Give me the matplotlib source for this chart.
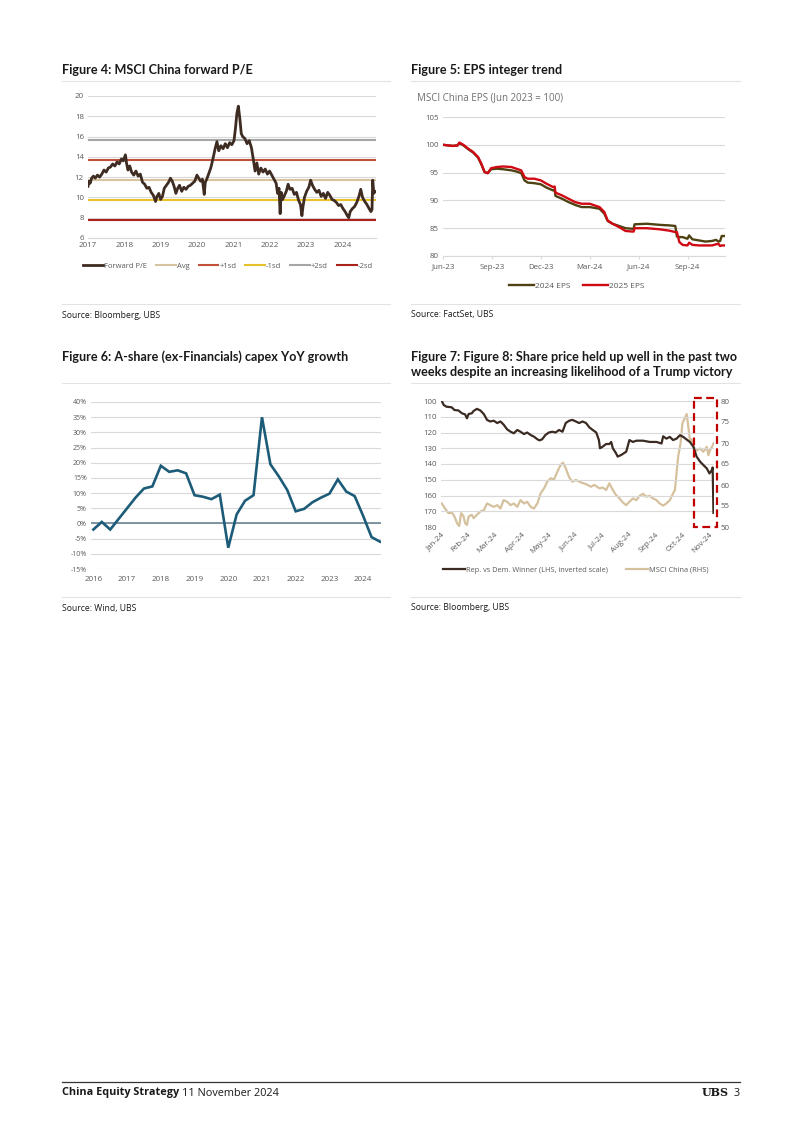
import matplotlib
matplotlib.use('Agg')
import matplotlib.pyplot as plt
from matplotlib.patches import Rectangle

plt.rcParams['font.family'] = ['Open Sans', 'DejaVu Sans']

W, H = 802, 1134

# ---------------- data ----------------
# Figure 4: MSCI China forward P/E
pe_year = [2017.00, 2017.03, 2017.06, 2017.10, 2017.15, 2017.20, 2017.26, 2017.32, 2017.38, 2017.44,
           2017.50, 2017.56, 2017.62, 2017.68, 2017.74, 2017.80, 2017.86, 2017.92, 2017.97, 2018.03,
           2018.06, 2018.10, 2018.15, 2018.20, 2018.26, 2018.32, 2018.38, 2018.44, 2018.50, 2018.56,
           2018.62, 2018.68, 2018.74, 2018.80, 2018.86, 2018.90, 2018.95, 2019.00, 2019.05, 2019.10,
           2019.16, 2019.22, 2019.27, 2019.32, 2019.37, 2019.42, 2019.47, 2019.52, 2019.58, 2019.64,
           2019.70, 2019.76, 2019.82, 2019.88, 2019.94, 2020.00, 2020.05, 2020.10, 2020.15, 2020.20,
           2020.23, 2020.27, 2020.32, 2020.38, 2020.44, 2020.50, 2020.55, 2020.60, 2020.66, 2020.72,
           2020.78, 2020.84, 2020.90, 2020.96, 2021.02, 2021.06, 2021.10, 2021.14, 2021.18, 2021.22,
           2021.26, 2021.32, 2021.38, 2021.44, 2021.50, 2021.55, 2021.60, 2021.65, 2021.70, 2021.76,
           2021.82, 2021.88, 2021.94, 2022.00, 2022.06, 2022.12, 2022.18, 2022.22, 2022.26, 2022.29,
           2022.32, 2022.36, 2022.41, 2022.46, 2022.51, 2022.56, 2022.62, 2022.68, 2022.74, 2022.80,
           2022.85, 2022.89, 2022.92, 2022.96, 2023.02, 2023.08, 2023.13, 2023.18, 2023.24, 2023.30,
           2023.36, 2023.42, 2023.48, 2023.54, 2023.60, 2023.66, 2023.72, 2023.78, 2023.84, 2023.90,
           2023.96, 2024.02, 2024.08, 2024.14, 2024.18, 2024.22, 2024.28, 2024.34, 2024.40, 2024.46,
           2024.51, 2024.56, 2024.62, 2024.68, 2024.74, 2024.79, 2024.82, 2024.84, 2024.87, 2024.90]
pe_value = [11.1, 11.6, 11.4, 11.9, 12.1, 11.9, 12.2, 12.0, 12.3, 12.7,
            12.5, 12.9, 13.0, 13.3, 13.1, 13.5, 13.3, 13.8, 13.6, 14.2,
            13.4, 12.7, 13.1, 12.5, 12.2, 12.6, 12.1, 12.3, 11.5, 11.3,
            10.9, 11.0, 10.5, 10.2, 9.6, 10.1, 10.4, 9.8, 10.1, 10.9,
            11.2, 11.5, 11.9, 11.6, 11.1, 10.4, 10.9, 11.2, 10.6, 11.0,
            10.8, 11.1, 11.2, 11.4, 11.6, 12.2, 11.9, 11.6, 11.8, 10.3,
            11.5, 11.8, 12.3, 12.9, 13.8, 14.8, 15.5, 14.6, 15.1, 14.8,
            15.3, 14.9, 15.4, 15.2, 15.6, 16.8, 18.3, 19.0, 17.8, 16.3,
            16.0, 15.8, 15.3, 15.6, 14.9, 13.8, 12.6, 13.4, 12.3, 12.9,
            12.5, 12.8, 12.3, 12.6, 12.2, 11.8, 11.4, 10.4, 10.9, 8.4,
            10.5, 9.8, 10.2, 10.6, 11.3, 10.8, 10.9, 10.3, 10.5, 9.7,
            9.3, 8.2, 9.1, 10.0, 10.6, 11.0, 11.7, 11.2, 10.8, 10.5,
            10.7, 10.1, 10.4, 9.9, 10.5, 10.2, 9.8, 9.7, 9.5, 9.2,
            9.3, 8.9, 8.6, 8.2, 8.0, 8.6, 8.9, 9.1, 9.5, 10.1,
            10.8, 10.0, 9.6, 9.3, 8.9, 8.6, 8.8, 11.7, 10.4, 10.6]
pe_avg = 11.74
pe_sd = 1.97
pe_bands = ['Avg', '+1sd', '-1sd', '+2sd', '-2sd']
pe_band_mult = [0, 1, -1, 2, -2]
pe_band_colors = ['#D8C3A0', '#C0503A', '#E8C02A', '#A6A6A6', '#A8221A']

# Figure 5: MSCI China EPS (Jun 2023 = 100), x in months since Jun-23
eps_month = [0, 0.3, 0.6, 0.9, 1.0, 1.25, 1.55, 1.85, 2.15, 2.35,
             2.55, 2.75, 2.95, 3.3, 3.7, 4.2, 4.5, 4.8, 5.0, 5.2,
             5.6, 6.0, 6.35, 6.75, 6.85, 6.9, 7.3, 7.7, 8.1, 8.5,
             9.0, 9.6, 9.9, 10.1, 10.4, 10.8, 11.2, 11.6, 11.7, 11.75,
             12.5, 13.3, 13.9, 14.25, 14.35, 14.5, 14.7, 15.0, 15.1, 15.3,
             15.7, 16.1, 16.5, 16.75, 16.9, 17.0, 17.1, 17.25]
eps_2024 = [100.0, 99.9, 99.8, 99.9, 100.3, 99.9, 99.2, 98.6, 97.7, 96.5,
            95.1, 94.9, 95.6, 95.7, 95.6, 95.4, 95.2, 94.9, 93.6, 93.2,
            93.1, 92.9, 92.3, 91.8, 91.9, 90.8, 90.3, 89.7, 89.2, 88.8,
            88.8, 88.5, 87.6, 86.3, 85.8, 85.4, 85.0, 84.9, 84.9, 85.7,
            85.8, 85.6, 85.5, 85.4, 83.5, 83.4, 83.4, 83.1, 83.7, 83.0,
            82.8, 82.6, 82.7, 82.9, 82.6, 82.7, 83.6, 83.6]
eps_2025 = [100.0, 99.9, 99.8, 99.9, 100.4, 100.0, 99.3, 98.7, 97.8, 96.6,
            95.1, 94.9, 95.8, 96.0, 96.1, 96.0, 95.7, 95.4, 94.2, 93.9,
            93.9, 93.6, 93.0, 92.4, 92.5, 91.4, 90.9, 90.3, 89.7, 89.4,
            89.4, 88.8, 87.9, 86.4, 85.8, 85.2, 84.5, 84.4, 84.4, 85.0,
            85.0, 84.8, 84.55, 84.3, 84.3, 82.5, 82.0, 81.9, 82.4, 82.0,
            81.9, 81.9, 81.9, 82.1, 82.2, 81.8, 81.9, 81.9]
eps_ticks = [0, 3, 6, 9, 12, 15]
eps_labels = ['Jun-23', 'Sep-23', 'Dec-23', 'Mar-24', 'Jun-24', 'Sep-24']

# Figure 6: A-share (ex-Financials) capex YoY growth, quarterly
capex_year = [2016.0 + 0.25 * i for i in range(35)]
capex_growth = [-2.0, 0.5, -2.0, 1.5, 5.0, 8.5, 11.5, 12.2, 19.0, 17.0,
                17.5, 16.5, 9.3, 8.8, 8.0, 9.5, -8.0, 3.0, 7.5, 9.3,
                35.0, 19.5, 15.5, 11.0, 4.0, 4.8, 7.0, 8.5, 9.8, 14.5,
                10.5, 9.0, 2.5, -4.5, -6.0]

# Figure 7: Rep. vs Dem. Winner vs MSCI China, x in months since Jan-24
rep_month = [0.03, 0.1, 0.2, 0.4, 0.5, 0.65, 0.78, 0.9, 0.97, 1.03,
             1.15, 1.22, 1.34, 1.47, 1.6, 1.72, 1.84, 1.97, 2.1, 2.22,
             2.34, 2.47, 2.6, 2.72, 2.85, 2.97, 3.1, 3.22, 3.35, 3.47,
             3.6, 3.68, 3.78, 3.9, 4.03, 4.16, 4.28, 4.41, 4.54, 4.66,
             4.79, 4.91, 5.04, 5.16, 5.29, 5.42, 5.54, 5.67, 5.8, 5.9,
             5.94, 6.04, 6.17, 6.29, 6.36, 6.42, 6.54, 6.6, 6.73, 6.92,
             7.04, 7.17, 7.3, 7.55, 7.8, 8.05, 8.24, 8.3, 8.42, 8.55,
             8.67, 8.8, 8.93, 9.05, 9.18, 9.3, 9.43, 9.55, 9.68, 9.8,
             9.93, 10.03, 10.12, 10.15, 10.18]
rep_value = [100, 102.5, 103.6, 104, 105.7, 106, 107.8, 108.5, 111, 108.3,
             107.8, 106.3, 105, 106, 108.3, 112, 113, 112.5, 114, 113,
             115, 118, 119.5, 120.5, 118.4, 119.5, 121, 120, 121.6, 122.6,
             124.3, 125, 124.3, 121.6, 120, 119.5, 120, 118.4, 119.5, 114,
             112.5, 112, 113, 114, 113, 114, 116.7, 118.4, 120, 124.8,
             130, 129, 127.3, 127.3, 126, 130, 133.2, 135.3, 134.3, 132.2,
             124.8, 126, 125.2, 125.2, 126, 126, 127, 122.4, 123.9, 122.8,
             124.8, 123.9, 121.7, 122.8, 124.5, 126, 129, 135.3, 138.5, 140.6,
             142.8, 146, 143.9, 142.2, 171]
msci_month = [0.03, 0.15, 0.28, 0.4, 0.47, 0.53, 0.6, 0.68, 0.75, 0.84,
              0.9, 0.97, 1.03, 1.15, 1.22, 1.34, 1.47, 1.6, 1.72, 1.84,
              1.97, 2.1, 2.22, 2.34, 2.47, 2.6, 2.72, 2.85, 2.97, 3.1,
              3.22, 3.35, 3.47, 3.6, 3.72, 3.85, 3.97, 4.1, 4.22, 4.35,
              4.47, 4.56, 4.66, 4.79, 4.91, 5.04, 5.23, 5.42, 5.6, 5.73,
              5.92, 6.04, 6.17, 6.29, 6.42, 6.54, 6.67, 6.8, 6.92, 7.04,
              7.17, 7.3, 7.42, 7.55, 7.67, 7.8, 7.92, 8.05, 8.17, 8.3,
              8.42, 8.55, 8.67, 8.74, 8.8, 8.86, 8.95, 9.02, 9.11, 9.18,
              9.24, 9.3, 9.36, 9.43, 9.55, 9.68, 9.8, 9.93, 9.99, 10.05,
              10.12, 10.18]
msci_value = [55.6, 54.4, 53.3, 53.4, 52.9, 52.1, 50.9, 50.2, 53.3, 52.6,
              50.9, 50.5, 52.5, 52.9, 52.1, 52.9, 53.7, 54.0, 55.6, 55.2,
              54.8, 55.2, 54.4, 56.4, 56.0, 55.2, 55.6, 54.8, 56.4, 55.6,
              56.0, 54.8, 54.4, 55.6, 58.0, 59.2, 60.8, 61.6, 61.3, 63.2,
              64.8, 65.3, 64.0, 61.8, 60.8, 61.2, 60.6, 60.2, 59.6, 60.0,
              59.2, 59.4, 58.8, 60.4, 58.8, 57.6, 56.8, 55.8, 55.2, 56.0,
              56.8, 56.4, 57.4, 57.9, 57.2, 57.4, 56.8, 56.4, 55.6, 55.1,
              55.6, 56.4, 58.0, 58.8, 62.8, 66.7, 69.9, 74.7, 75.9, 76.9,
              73.9, 70.7, 70.9, 69.1, 68.2, 68.7, 67.9, 69.1, 67.1, 68.3,
              69.0, 69.9]
month_labels = ['Jan-24', 'Feb-24', 'Mar-24', 'Apr-24', 'May-24', 'Jun-24',
                'Jul-24', 'Aug-24', 'Sep-24', 'Oct-24', 'Nov-24']
highlight = (9.45, 10.31)

# ---------------- layout helpers ----------------
GRID = '#D9D9D9'
TICK = '#595959'
TXT = '#1A1A1A'


def fx(x):
    return x / W


def fy(y):
    return 1 - y / H


def add_ax(x0, y0, x1, y1):
    # pixel box (top-left, bottom-right) -> axes
    return fig.add_axes([fx(x0), fy(y1), (x1 - x0) / W, (y1 - y0) / H])


def style(ax):
    for s in ax.spines.values():
        s.set_visible(False)
    ax.tick_params(labelsize=5.7, colors=TICK, length=0, pad=3)
    ax.grid(axis='y', color=GRID, lw=0.8)
    ax.set_axisbelow(True)


def frame(x0, x1, ytitle, title_lines, yrule, ybottom, source):
    for i, t in enumerate(title_lines):
        fig.text(fx(x0), fy(ytitle + i * 15.5), t, fontsize=9.1, fontweight='bold',
                 family=['Lato', 'DejaVu Sans'], color=TXT, va='center', ha='left')
    fig.add_artist(plt.Line2D([fx(x0), fx(x1)], [fy(yrule), fy(yrule)], color='#E3E3E3', lw=0.8))
    fig.add_artist(plt.Line2D([fx(x0), fx(x1)], [fy(ybottom), fy(ybottom)], color='#E3E3E3', lw=0.8))
    fig.text(fx(x0), fy(ybottom + 11), source, fontsize=6.2, color=TXT, va='center', ha='left')


fig = plt.figure(figsize=(W / 100, H / 100), dpi=100)

frame(62, 390, 70, ['Figure 4: MSCI China forward P/E'], 81, 304, 'Source: Bloomberg, UBS')
frame(411, 740, 70, ['Figure 5: EPS integer trend'], 81, 304, 'Source: FactSet, UBS')
frame(62, 390, 357, ['Figure 6: A-share (ex-Financials) capex YoY growth'], 383, 597, 'Source: Wind, UBS')
frame(411, 740, 357, ['Figure 7: Figure 8: Share price held up well in the past two',
                      'weeks despite an increasing likelihood of a Trump victory'], 383, 597,
      'Source: Bloomberg, UBS')

# ---------------- Figure 4 ----------------
ax4 = add_ax(88, 96, 376, 238)
style(ax4)
ax4.spines['bottom'].set_visible(True)
ax4.spines['bottom'].set_color(GRID)
ax4.plot(pe_year, pe_value, color='#3E2C23', lw=2.0, label='Forward P/E', zorder=3)
for name, m, c in zip(pe_bands, pe_band_mult, pe_band_colors):
    ax4.axhline(pe_avg + m * pe_sd, color=c, lw=1.5, label=name, zorder=2)
ax4.set_ylim(6, 20)
ax4.set_yticks(range(6, 21, 2))
ax4.set_xlim(2017.0, 2024.93)
ax4.set_xticks(range(2017, 2025))
ax4.legend(loc='center', bbox_to_anchor=(fx(228), fy(266)), bbox_transform=fig.transFigure,
           ncol=6, frameon=False, fontsize=5.5, handlelength=2.6, handletextpad=0.1,
           columnspacing=1.2, labelcolor=TICK)

# ---------------- Figure 5 ----------------
fig.text(fx(417), fy(98), 'MSCI China EPS (Jun 2023 = 100)', fontsize=7, color='#6E6E6E',
         va='center', ha='left')
ax5 = add_ax(443, 117, 725, 256)
style(ax5)
ax5.spines['bottom'].set_visible(True)
ax5.spines['bottom'].set_color(GRID)
ax5.tick_params(axis='x', length=2.5, color=GRID)
ax5.plot(eps_month, eps_2024, color='#4E4212', lw=1.7, label='2024 EPS', zorder=3)
ax5.plot(eps_month, eps_2025, color='#D00A14', lw=1.7, label='2025 EPS', zorder=3)
ax5.set_ylim(80, 105)
ax5.set_yticks(range(80, 106, 5))
ax5.set_xlim(0, 17.3)
ax5.set_xticks(eps_ticks)
ax5.set_xticklabels(eps_labels)
ax5.legend(loc='center', bbox_to_anchor=(fx(577), fy(286)), bbox_transform=fig.transFigure,
           ncol=2, frameon=False, fontsize=6, handlelength=3, handletextpad=0.1,
           columnspacing=1.5, labelcolor=TICK)

# ---------------- Figure 6 ----------------
ax6 = add_ax(91, 402, 381, 569)
style(ax6)
ax6.axhline(0, color='#5F7D8C', lw=1.1, zorder=2)
ax6.plot(capex_year, capex_growth, color='#1D5C78', lw=1.9, zorder=3, solid_joinstyle='miter')
ax6.set_ylim(-15, 40)
ax6.set_yticks(range(-15, 41, 5))
ax6.set_yticklabels([f'{v}%' for v in range(-15, 41, 5)])
ax6.tick_params(axis='y', labelsize=5)
ax6.tick_params(axis='x', pad=5)
ax6.set_xlim(2015.93, 2024.53)
ax6.set_xticks(range(2016, 2025))

# ---------------- Figure 7 ----------------
ax7 = add_ax(441, 401, 714, 527)
style(ax7)
ax7b = ax7.twinx()
for s in ax7b.spines.values():
    s.set_visible(False)
ax7b.tick_params(labelsize=5.7, colors=TICK, length=0, pad=5)
l1, = ax7.plot(rep_month, rep_value, color='#3B2B22', lw=1.6, zorder=3,
               label='Rep. vs Dem. Winner (LHS, inverted scale)')
l2, = ax7b.plot(msci_month, msci_value, color='#D6C19E', lw=1.6, zorder=2, label='MSCI China (RHS)')
ax7.set_ylim(180, 100)
ax7.set_yticks(range(100, 181, 10))
ax7b.set_ylim(50, 80)
ax7b.set_yticks(range(50, 81, 5))
ax7.set_xlim(0, 10.2)
ax7.set_xticks(range(len(month_labels)))
ax7.set_xticklabels(month_labels, rotation=45, ha='right', rotation_mode='anchor')
ax7.add_patch(Rectangle((highlight[0], 98.1), highlight[1] - highlight[0], 180 - 98.1,
                        fill=False, edgecolor='#C00000', lw=1.6, ls=(0, (3.5, 2)),
                        clip_on=False, zorder=5))
ax7.set_zorder(ax7b.get_zorder() + 1)
ax7.patch.set_visible(False)
fig.legend([l1, l2], [l1.get_label(), l2.get_label()], loc='center',
           bbox_to_anchor=(fx(576), fy(570)), ncol=2, frameon=False, fontsize=5.3,
           handlelength=3, handletextpad=0.1, columnspacing=2.5, labelcolor=TICK)

# ---------------- footer ----------------
fig.add_artist(plt.Line2D([fx(62), fx(740)], [fy(1082), fy(1082)], color='#333333', lw=0.9))
fig.text(fx(62), fy(1093), 'China Equity Strategy', fontsize=7.8, fontweight='bold', color=TXT,
         va='center', ha='left')
fig.text(fx(182), fy(1093), '11 November 2024', fontsize=7.8, color=TXT, va='center', ha='left')
fig.text(fx(729), fy(1093), 'UBS', fontsize=8, fontweight='bold', family='DejaVu Serif',
         color=TXT, va='center', ha='right')
fig.text(fx(740), fy(1093), '3', fontsize=7.8, color=TXT, va='center', ha='right')

fig.savefig('out.png', dpi=100)
